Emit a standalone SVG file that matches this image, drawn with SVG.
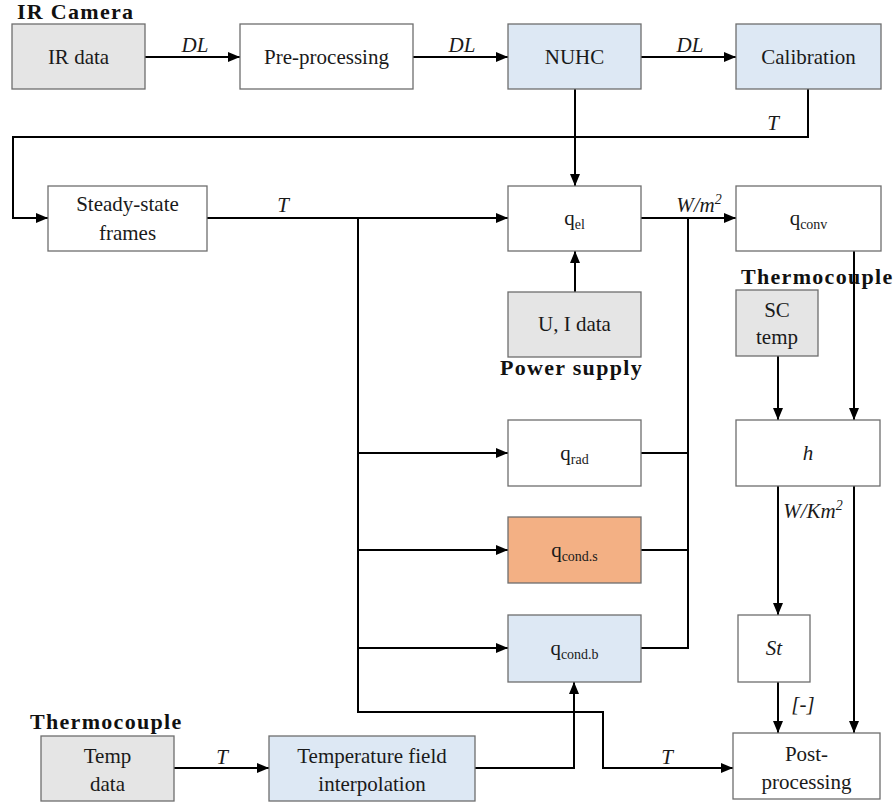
<svg xmlns="http://www.w3.org/2000/svg" width="896" height="802" viewBox="0 0 896 802">
<defs>
<marker id="arr" viewBox="0 0 12 10" refX="12" refY="5" markerWidth="12" markerHeight="10" markerUnits="userSpaceOnUse" orient="auto">
<path d="M0,0 L12,5 L0,10 Z" fill="#000"/>
</marker>
</defs>
<style>
.box{stroke:#6e6e6e;stroke-width:1.3;fill:#fff}
.gray{fill:#e5e5e5}
.blue{fill:#dde8f4}
.orange{fill:#f3b084}
text{font-family:'Liberation Serif','Times New Roman',serif}
.t{font-size:21px;fill:#1a1a1a;text-anchor:middle}
.m{font-size:21px;font-style:italic;fill:#1a1a1a;text-anchor:middle}
.b{font-size:22px;font-weight:bold;letter-spacing:1.3px;fill:#111}
.sub{font-size:14px}
.sup{font-size:14px}
.c{fill:none;stroke:#000;stroke-width:2}
.a{marker-end:url(#arr)}
</style>
<rect width="896" height="802" fill="#fff"/>

<g id="connectors">
<path class="c a" d="M145,57 H240"/>
<path class="c a" d="M413,57 H508"/>
<path class="c a" d="M641,57 H736"/>
<path class="c a" d="M808,89 V137 H13 V218 H48"/>
<path class="c a" d="M575,89 V186"/>
<path class="c a" d="M207,218 H508"/>
<path class="c a" d="M575,292 V251"/>
<path class="c a" d="M641,218 H736"/>
<path class="c a" d="M358,218 V712 H603 V768 H733"/>
<path class="c a" d="M358,453 H508"/>
<path class="c a" d="M358,550 H508"/>
<path class="c a" d="M358,648 H508"/>
<path class="c" d="M641,453 H688 M641,550 H688 M641,648 H688 M688,218 V649"/>
<path class="c a" d="M174,768 H269"/>
<path class="c a" d="M475,768 H574 V682"/>
<path class="c a" d="M854,251 V420"/>
<path class="c a" d="M778,356 V420"/>
<path class="c a" d="M778,486 V615"/>
<path class="c a" d="M778,682 V733"/>
<path class="c a" d="M854,486 V733"/>
<text class="m" x="195" y="52">DL</text>
<text class="m" x="462" y="52">DL</text>
<text class="m" x="690" y="52">DL</text>
<text class="m" x="773" y="130">T</text>
<text class="m" x="283" y="212">T</text>
<text class="m" x="699" y="212">W/m<tspan class="sup" dy="-8">2</tspan></text>
<text class="m" x="813" y="518">W/Km<tspan class="sup" dy="-8">2</tspan></text>
<text class="m" x="803" y="711">[-]</text>
<text class="m" x="222" y="764">T</text>
<text class="m" x="667" y="764">T</text>
</g>

<g id="ir-data"><rect class="box gray" x="12" y="24" width="133" height="65"/><text class="t" x="78.5" y="64">IR data</text></g>
<g id="pre-processing"><rect class="box" x="240" y="24" width="173" height="65"/><text class="t" x="326.5" y="64">Pre-processing</text></g>
<g id="nuhc"><rect class="box blue" x="508" y="24" width="133" height="65"/><text class="t" x="574.5" y="64">NUHC</text></g>
<g id="calibration"><rect class="box blue" x="736" y="24" width="145" height="65"/><text class="t" x="808.5" y="64">Calibration</text></g>
<g id="steady-state"><rect class="box" x="48" y="186" width="159" height="65"/><text class="t" x="127.5" y="211">Steady-state</text><text class="t" x="127.5" y="240">frames</text></g>
<g id="q-el"><rect class="box" x="508" y="186" width="133" height="65"/><text class="t" x="574.5" y="225">q<tspan class="sub" dy="4">el</tspan></text></g>
<g id="q-conv"><rect class="box" x="736" y="186" width="145" height="65"/><text class="t" x="808.5" y="225">q<tspan class="sub" dy="4">conv</tspan></text></g>
<g id="ui-data"><rect class="box gray" x="508" y="292" width="133" height="65"/><text class="t" x="574.5" y="331">U, I data</text></g>
<g id="sc-temp"><rect class="box gray" x="736" y="290" width="82" height="66"/><text class="t" x="777" y="317">SC</text><text class="t" x="777" y="344">temp</text></g>
<g id="h"><rect class="box" x="736" y="420" width="144" height="66"/><text class="m" x="808" y="460">h</text></g>
<g id="q-rad"><rect class="box" x="508" y="420" width="133" height="66"/><text class="t" x="574.5" y="460">q<tspan class="sub" dy="4">rad</tspan></text></g>
<g id="q-cond-s"><rect class="box orange" x="508" y="517" width="133" height="66"/><text class="t" x="574.5" y="557">q<tspan class="sub" dy="4">cond.s</tspan></text></g>
<g id="q-cond-b"><rect class="box blue" x="508" y="615" width="133" height="67"/><text class="t" x="574.5" y="655">q<tspan class="sub" dy="4">cond.b</tspan></text></g>
<g id="st"><rect class="box" x="738" y="615" width="72" height="67"/><text class="m" x="774" y="655">St</text></g>
<g id="temp-data"><rect class="box gray" x="41" y="736" width="133" height="65"/><text class="t" x="107.5" y="763">Temp</text><text class="t" x="107.5" y="791">data</text></g>
<g id="temp-field"><rect class="box blue" x="269" y="736" width="206" height="65"/><text class="t" x="372" y="763">Temperature field</text><text class="t" x="372" y="791">interpolation</text></g>
<g id="post-processing"><rect class="box" x="733" y="733" width="147" height="66"/><text class="t" x="806.5" y="761">Post-</text><text class="t" x="806.5" y="789">processing</text></g>

<g id="labels">
<text class="b" x="17" y="19">IR Camera</text>
<text class="b" x="500" y="375">Power supply</text>
<text class="b" x="741" y="284">Thermocouple</text>
<text class="b" x="30" y="729">Thermocouple</text>
</g>
</svg>
